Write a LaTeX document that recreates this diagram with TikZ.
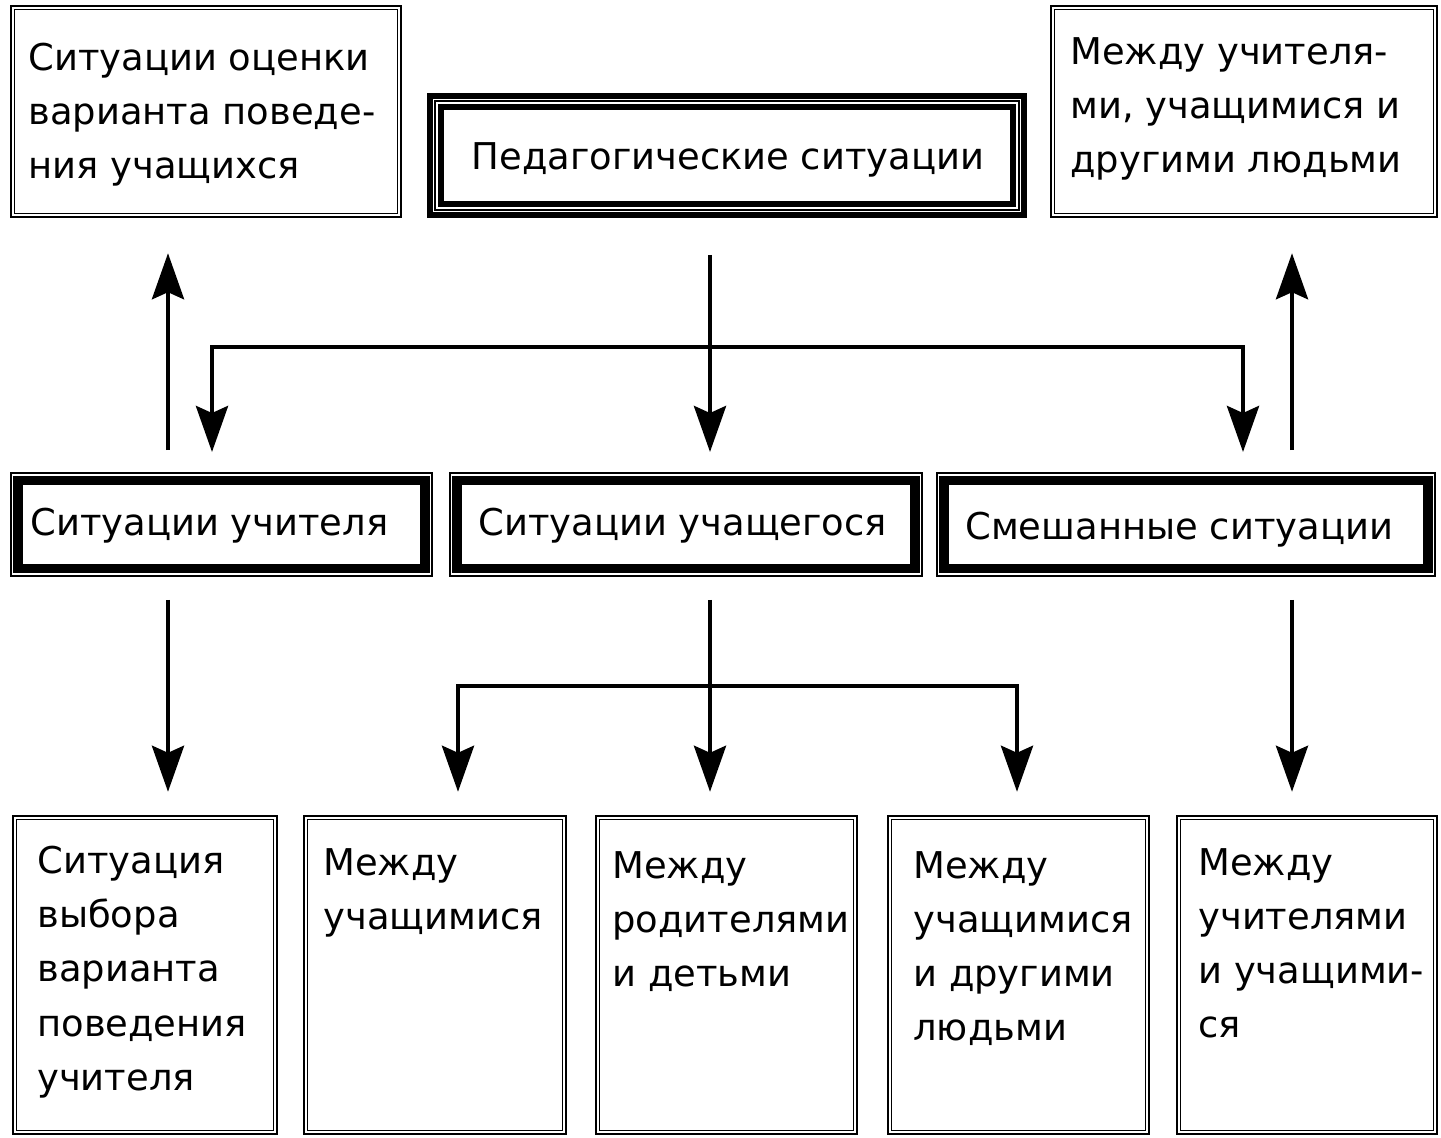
\documentclass[tikz,border=0pt]{standalone}
\usepackage{fontspec}
\setmainfont{DejaVu Sans}
\usetikzlibrary{arrows.meta}
\usetikzlibrary{positioning}

\begin{document}
\begin{tikzpicture}[line cap=butt,line join=miter,>={Stealth[length=0.92cm,width=0.64cm,inset=0.14cm]},x=0.02cm,y=-0.02cm,
  frame/.style={draw,line width=0.03cm,double,double distance=0.04cm,inner sep=0pt},
  thinframe/.style={draw,line width=0.03cm,inner sep=0pt},
  txt/.style={font=\fontsize{21}{30.8}\selectfont,align=left,inner sep=0pt,anchor=north west,execute at begin node=\strut},
  arr/.style={->,line width=0.09cm}]
\useasboundingbox (0,0) rectangle (1441,1138);
\node[frame,minimum width=7.74cm,minimum height=4.16cm] (ocenka) at (206,111.5) {};
\node[draw,line width=0.11cm,inner sep=0pt,minimum width=11.89cm,minimum height=2.39cm] (ped) at (727,155.5) {};
\node[frame,minimum width=7.66cm,minimum height=4.16cm] (mezhdu) at (1244,111.5) {};
\foreach \i/\w in {8/0.04cm,14/0.11cm}
\draw[line width=\w] ([shift={(\i,\i)}]ped.north west) rectangle ([shift={(-\i,-\i)}]ped.south east);
\node[thinframe,minimum width=8.43cm,minimum height=2.07cm] (uchitel) at (221.5,524.5) {};
\node[thinframe,minimum width=9.45cm,minimum height=2.07cm] (uchashch) at (686,524.5) {};
\node[thinframe,minimum width=9.97cm,minimum height=2.07cm] (smesh) at (1186,524.5) {};
\foreach \b in {uchitel,uchashch,smesh}
\draw[line width=0.19cm] ([shift={(8,8.5)}]\b.north west) rectangle ([shift={(-8,-8.5)}]\b.south east);
\node[frame,minimum width=5.22cm,minimum height=6.3cm] (vybor) at (145,975) {};
\node[frame,minimum width=5.18cm,minimum height=6.3cm] (uch) at (435,975) {};
\node[frame,minimum width=5.16cm,minimum height=6.3cm] (rod) at (726.5,975) {};
\node[frame,minimum width=5.16cm,minimum height=6.3cm] (lyud) at (1018.5,975) {};
\node[frame,minimum width=5.14cm,minimum height=6.3cm] (uchuch) at (1307,975) {};
\node[txt] (ocenka-t) at (28,43) {Ситуации оценки\\варианта поведе-\\ния учащихся};
\node[txt,anchor=base] (ped-t) at (728,170) {Педагогические ситуации};
\node[txt] (mezhdu-t) at (1070,37) {Между учителя-\\ми, учащимися и\\другими людьми};
\node[txt,anchor=base west] (uchitel-t) at (30,536) {Ситуации учителя};
\node[txt,anchor=base west] (uchashch-t) at (478,536) {Ситуации учащегося};
\node[txt,anchor=base west] (smesh-t) at (965,540) {Смешанные ситуации};
\node[txt] (vybor-t) at (37,846) {Ситуация\\выбора\\варианта\\поведения\\учителя};
\node[txt] (uch-t) at (323,848) {Между\\учащимися};
\node[txt] (rod-t) at (612,851) {Между\\родителями\\и детьми};
\node[txt] (lyud-t) at (913,851) {Между\\учащимися\\и другими\\людьми};
\node[txt] (uchuch-t) at (1198,848) {Между\\учителями\\и учащими-\\ся};
\coordinate (hubA) at (710,347);
\coordinate (hubB) at (710,686);
\coordinate (jL) at (212,347);
\coordinate (jR) at (1243,347);
\coordinate (kL) at (458,686);
\coordinate (kR) at (1017,686);
\coordinate (uL) at (168,0);
\coordinate (uR) at (1292,0);
\draw[arr,shorten <=0.74cm,shorten >=0.4cm] (ped.south -| hubA) -- (uchashch.north -| hubA);
\draw[arr,<->,shorten <=0.4cm,shorten >=0.4cm] (uchitel.north -| jL) -- (jL) -- (jR) -- (smesh.north -| jR);
\draw[arr,shorten <=0.44cm,shorten >=0.74cm] (uchitel.north -| uL) -- (ocenka.south -| uL);
\draw[arr,shorten <=0.44cm,shorten >=0.74cm] (smesh.north -| uR) -- (mezhdu.south -| uR);
\draw[arr,shorten <=0.46cm,shorten >=0.5cm] (uchitel.south -| uL) -- (vybor.north -| uL);
\draw[arr,shorten <=0.46cm,shorten >=0.5cm] (uchashch.south -| hubB) -- (rod.north -| hubB);
\draw[arr,<->,shorten <=0.5cm,shorten >=0.5cm] (uch.north -| kL) -- (kL) -- (kR) -- (lyud.north -| kR);
\draw[arr,shorten <=0.46cm,shorten >=0.5cm] (smesh.south -| uR) -- (uchuch.north -| uR);
\end{tikzpicture}
\end{document}
